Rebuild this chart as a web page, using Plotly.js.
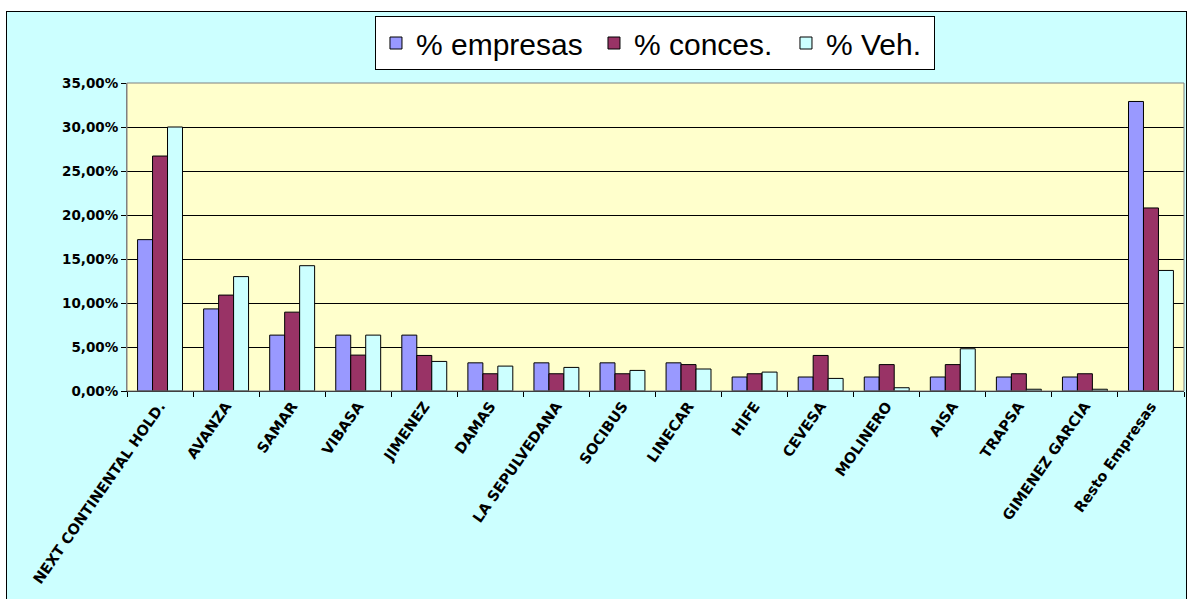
<!DOCTYPE html>
<html>
<head>
<meta charset="utf-8">
<script src="https://cdn.plot.ly/plotly-3.0.1.min.js"></script>
<style>
  html, body { margin:0; padding:0; background:#ffffff; }
  #frame { position:absolute; left:6px; top:11px; width:1179px; height:587px; border:1px solid #000; background:#CCFFFF; }
  #chart { width:1179px; height:587px; }
</style>
</head>
<body>
<div id="frame"><div id="chart"></div></div>
<script>
const categories = ["NEXT CONTINENTAL HOLD.", "AVANZA", "SAMAR", "VIBASA", "JIMENEZ", "DAMAS", "LA SEPULVEDANA", "SOCIBUS", "LINECAR", "HIFE", "CEVESA", "MOLINERO", "AISA", "TRAPSA", "GIMENEZ GARCIA", "Resto Empresas"];
const empresas = [17.2, 9.33, 6.35, 6.35, 6.35, 3.2, 3.2, 3.2, 3.2, 1.59, 1.59, 1.59, 1.59, 1.59, 1.59, 32.9];
const conces   = [26.7, 10.9, 8.96, 4.08, 4.04, 1.96, 1.96, 1.96, 3.0, 1.96, 4.04, 3.0, 3.0, 1.96, 1.96, 20.8];
const veh      = [30.0, 13.0, 14.24, 6.35, 3.36, 2.83, 2.68, 2.34, 2.5, 2.15, 1.43, 0.37, 4.8, 0.2, 0.2, 13.7];
const seriesNames = ["% empresas", "% conces.", "% Veh."];
const seriesColors = ["#9999FF", "#993366", "#CCFFFF"];
const legendWidths = [173, 147, 103];
const yTicks = [0, 5, 10, 15, 20, 25, 30, 35];
const yTickText = ["0,00%", "5,00%", "10,00%", "15,00%", "20,00%", "25,00%", "30,00%", "35,00%"];

const data = [empresas, conces, veh].map((vals, i) => ({
  type: 'bar',
  name: seriesNames[i],
  x: categories,
  y: vals,
  legendwidth: legendWidths[i],
  marker: { color: seriesColors[i], line: { color: '#000000', width: 1 } }
}));

const layout = {
  width: 1179, height: 587,
  paper_bgcolor: '#CCFFFF',
  plot_bgcolor: '#FFFFCC',
  margin: { l: 120, r: 2, t: 71, b: 208 },
  barmode: 'group',
  bargap: 0.32,
  bargroupgap: 0,
  font: { family: 'Liberation Sans, Arial, sans-serif', color: '#000' },
  showlegend: true,
  legend: {
    orientation: 'h',
    x: 0.2346, y: 1.2175, xanchor: 'left', yanchor: 'top',
    bgcolor: '#FFFFFF', bordercolor: '#000000', borderwidth: 1,
    font: { size: 30, family: 'Liberation Sans, Arial, sans-serif' },
    traceorder: 'normal'
  },
  xaxis: {
    type: 'category',
    tickson: 'boundaries',
    ticks: 'outside', ticklen: 5, tickcolor: '#000',
    tickangle: -55,
    tickfont: { size: 14.5, family: 'DejaVu Sans, sans-serif', weight: 'bold' },
    showline: true, linecolor: '#000', linewidth: 1,
    showgrid: false, zeroline: false
  },
  yaxis: {
    range: [0, 35],
    tickvals: yTicks,
    ticktext: yTickText,
    ticks: 'outside', ticklen: 5, tickcolor: '#000',
    tickfont: { size: 13.5, family: 'DejaVu Sans, sans-serif', weight: 'bold' },
    showline: true, linecolor: '#808080', linewidth: 1,
    showgrid: true, gridcolor: '#000000', gridwidth: 1,
    zeroline: false
  },
  shapes: [{
    type: 'rect', xref: 'paper', yref: 'paper', x0: 0, x1: 1, y0: 0, y1: 1,
    line: { color: '#808080', width: 1 }, layer: 'above'
  }]
};

Plotly.newPlot('chart', data, layout, { displayModeBar: false, staticPlot: true });
</script>
</body>
</html>
